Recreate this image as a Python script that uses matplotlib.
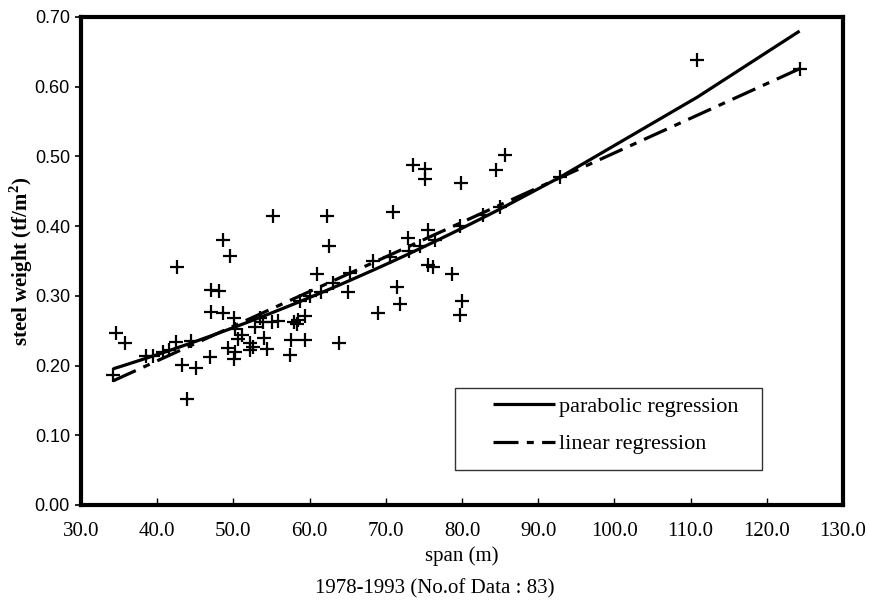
import numpy as np
import matplotlib
matplotlib.use("Agg")
import matplotlib.pyplot as plt
from matplotlib.patches import Rectangle
from matplotlib.ticker import FormatStrFormatter

# ---- data ----
span = [34.2, 34.6, 35.8, 38.5, 40.7, 42.5, 42.6, 43.2, 43.9, 45.1,
        46.9, 47.1, 48.1, 47.1, 48.7, 48.7, 49.5, 50.1, 50.2, 49.3,
        50.2, 50.1, 50.6, 51.1, 52.2, 52.6, 52.2, 52.8, 54.0, 54.4,
        55.2, 55.0, 55.9, 53.9, 57.9, 58.3, 58.5, 59.4, 57.6, 59.4,
        57.4, 61.0, 62.3, 62.6, 63.9, 65.1, 69.0, 71.0, 71.5, 71.9,
        72.9, 73.6, 75.1, 75.1, 75.6, 75.6, 76.2, 78.7, 79.9, 80.0,
        79.8, 84.5, 85.6, 110.9, 124.3,
        39.5, 41.5, 44.5, 53.5, 58.8, 60.0, 61.5, 63.1, 65.3, 68.3,
        70.5, 73.0, 74.5, 76.5, 79.7, 82.8, 85.0, 92.9]
weight = [0.186, 0.247, 0.232, 0.213, 0.220, 0.234, 0.342, 0.201, 0.152, 0.197,
          0.212, 0.309, 0.307, 0.277, 0.275, 0.380, 0.357, 0.268, 0.252, 0.225,
          0.220, 0.209, 0.238, 0.244, 0.232, 0.227, 0.222, 0.255, 0.239, 0.224,
          0.415, 0.262, 0.264, 0.263, 0.263, 0.260, 0.266, 0.271, 0.237, 0.237,
          0.215, 0.331, 0.415, 0.371, 0.232, 0.306, 0.275, 0.420, 0.313, 0.289,
          0.383, 0.487, 0.482, 0.468, 0.395, 0.344, 0.342, 0.331, 0.462, 0.292,
          0.272, 0.481, 0.502, 0.638, 0.625,
          0.214, 0.222, 0.235, 0.268, 0.292, 0.300, 0.305, 0.318, 0.333, 0.350,
          0.356, 0.365, 0.372, 0.380, 0.400, 0.416, 0.428, 0.470]

# regression coefficients (constant, x, x^2)
parabolic_coef = [0.10479, 0.001894, 2.198e-5]
linear_coef = [0.008, 0.00497]

labels = ["parabolic regression", "linear regression"]
xticks = [30.0, 40.0, 50.0, 60.0, 70.0, 80.0, 90.0, 100.0, 110.0, 120.0, 130.0]
yticks = [0.00, 0.10, 0.20, 0.30, 0.40, 0.50, 0.60, 0.70]

plt.rcParams['lines.scale_dashes'] = False
serif = "Liberation Serif"
sans = "Liberation Sans"
plt.rcParams['mathtext.fontset'] = 'custom'
plt.rcParams['mathtext.rm'] = serif
plt.rcParams['mathtext.bf'] = serif + ":bold"

fig = plt.figure(figsize=(8.7, 6.09), dpi=100)
ax = fig.add_axes([0.0931, 0.1708, 0.8759, 0.8013])

xs = np.array(sorted(set(span)))
yp = np.polyval(parabolic_coef[::-1], xs)
yl = np.polyval(linear_coef[::-1], xs)

ax.plot(span, weight, linestyle="none", marker="+", markersize=10,
        markeredgewidth=1.6, color="black", zorder=3)
lp, = ax.plot(xs, yp, color="black", lw=2.3, solid_capstyle="butt", label=labels[0], zorder=4)
ll, = ax.plot(xs, yl, color="black", lw=2.3, dashes=(18, 6, 5, 6),
              dash_capstyle="butt", label=labels[1], zorder=4)

ax.set_xlim(30, 130)
ax.set_ylim(0, 0.70)
ax.set_xticks(xticks)
ax.set_yticks(yticks)
ax.xaxis.set_major_formatter(FormatStrFormatter("%.1f"))
ax.yaxis.set_major_formatter(FormatStrFormatter("%.2f"))

for sp in ax.spines.values():
    sp.set_linewidth(3)
ax.tick_params(axis="x", direction="in", length=5, width=1, pad=12)
ax.tick_params(axis="y", direction="out", length=4, width=1.2, pad=4)
for t in ax.get_xticklabels():
    t.set_fontfamily(serif)
    t.set_fontsize(15)
for t in ax.get_yticklabels():
    t.set_fontfamily(sans)
    t.set_fontsize(13)

ax.set_xlabel("span (m)", fontfamily=serif, fontsize=15, labelpad=4)
ax.set_ylabel(r"steel weight (tf/m$^\mathbf{2}$)", fontfamily=serif, fontsize=15,
              fontweight="bold", labelpad=0)

fig.text(0.5, 0.034, "1978-1993 (No.of Data : 83)", ha="center", va="center",
         fontfamily=serif, fontsize=15)

# legend frame and entries
ax.add_patch(Rectangle((0.491, 0.072), 0.403, 0.168, transform=ax.transAxes,
                       fill=True, facecolor="white", edgecolor="#333333", lw=1.0, zorder=5))
leg = ax.legend(handles=[lp, ll], loc="upper left", bbox_to_anchor=(0.541, 0.222),
                frameon=False, borderpad=0, borderaxespad=0, handlelength=2.8,
                handletextpad=0.15, labelspacing=0.75,
                prop={"family": serif, "size": 16})
leg.set_zorder(6)

fig.savefig("out.png", dpi=100)
